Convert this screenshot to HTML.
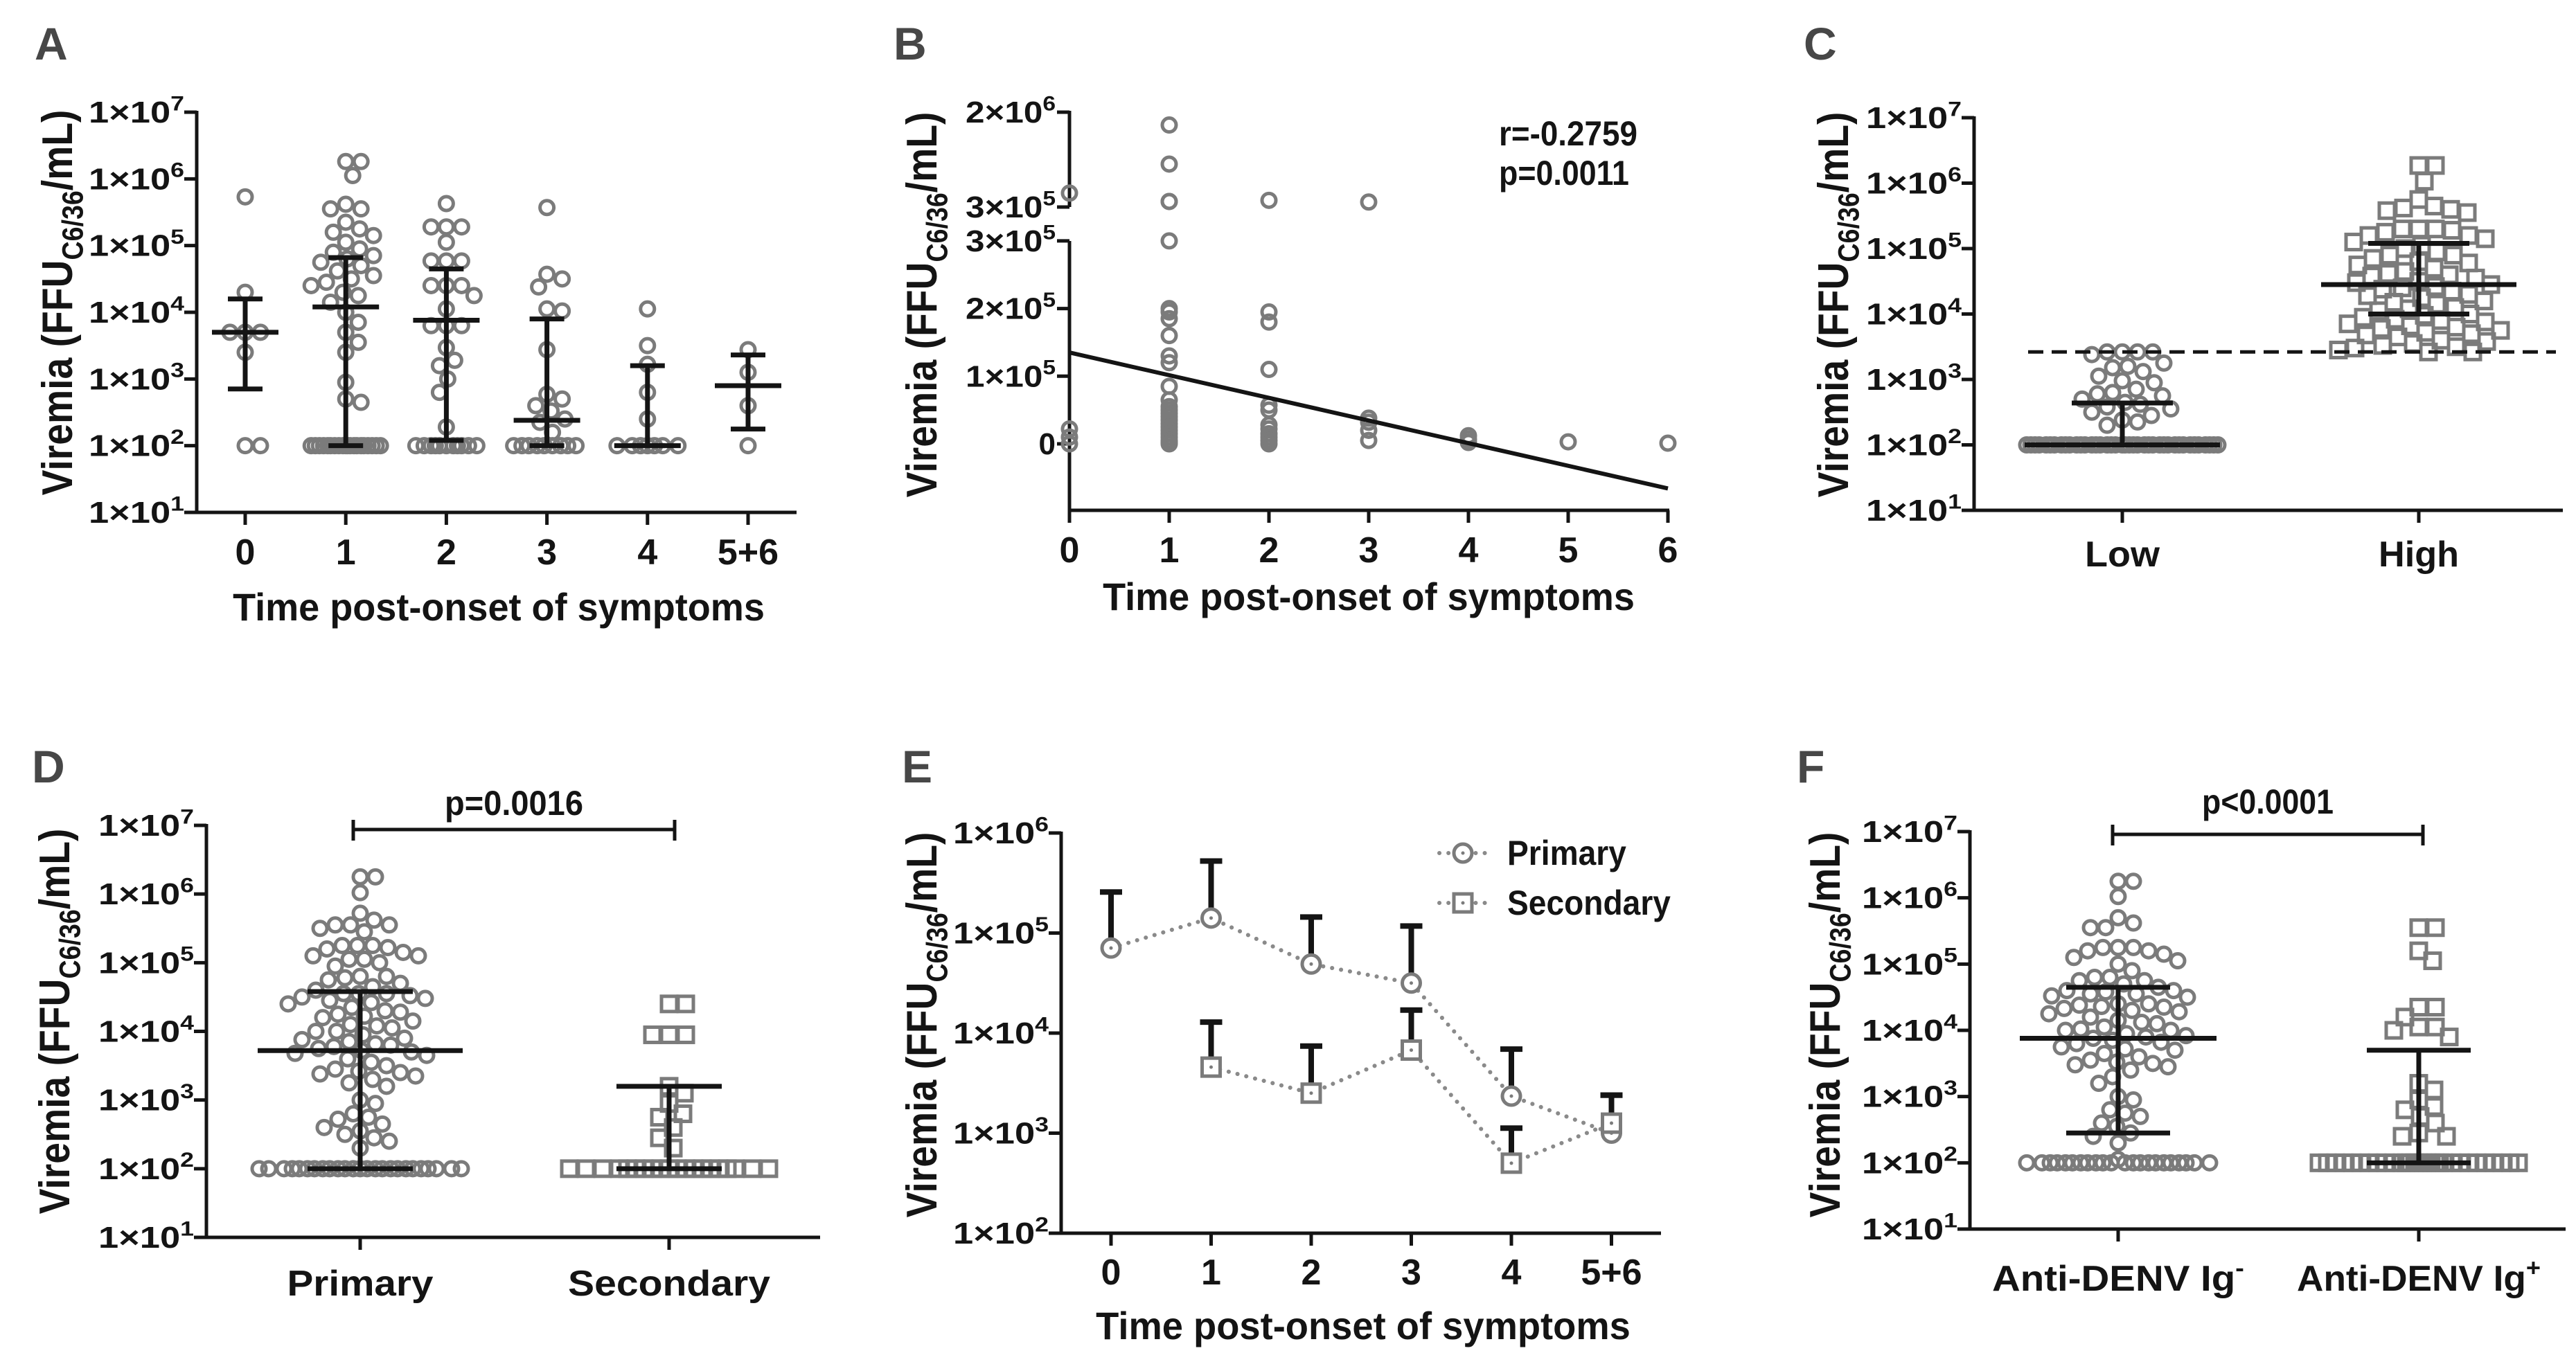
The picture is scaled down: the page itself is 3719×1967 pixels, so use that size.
<!DOCTYPE html>
<html><head><meta charset="utf-8">
<style>html,body{margin:0;padding:0;background:#fff;}svg{display:block;}</style>
</head><body>
<svg id="fig" xmlns="http://www.w3.org/2000/svg" width="3719" height="1967" viewBox="0 0 3719 1967" font-family="'Liberation Sans', Arial, sans-serif" font-weight="bold">
<rect width="3719" height="1967" fill="#ffffff"/>
</svg>
<script>
// ---------- DATA (log10 FFU/mL unless noted) ----------
const aCategories = ["0","1","2","3","4","5+6"];
const aDay0 = [5.73,4.3,3.7,3.7,3.7,3.4,2,2];
const aDay1 = [6.26,6.26,6.05,5.62,5.55,5.55,5.35,5.25,5.2,5.15,5.05,4.95,4.9,4.85,4.8,4.75,4.7,4.62,4.55,4.5,4.45,4.4,4.3,4.25,4.15,4.0,3.85,3.7,3.55,3.4,2.95,2.7,2.65,2,2,2,2,2,2,2,2,2,2,2,2,2,2,2,2,2,2,2,2];
const aDay2 = [5.63,5.28,5.28,5.28,5.05,4.77,4.77,4.77,4.4,4.4,4.4,4.25,4.05,3.8,3.8,3.8,3.47,3.28,3.2,3.0,2.8,2.28,2,2,2,2,2,2,2,2,2,2,2];
const aDay3 = [5.57,4.57,4.5,4.38,4.05,4.02,3.44,2.77,2.7,2.6,2.52,2.4,2.35,2.2,2,2,2,2,2,2,2,2,2];
const aDay4 = [4.05,3.5,3.22,2.8,2.4,2,2,2,2,2,2,2];
const aDay56 = [3.44,3.1,2.6,2];
const aMedian = [3.7,4.08,3.88,2.38,2,2.9];
const aLower = [2.85,2,2.08,2,2,2.25];
const aUpper = [4.2,4.82,4.65,3.9,3.2,3.36];

const bDays = [0,0,0,0, 1,1,1,1,1,1,1,1,1,1,1,1,1,1,1,1,1,1,1,1,1,1,1,1,1,1, 2,2,2,2,2,2,2,2,2,2,2,2, 3,3,3,3,3, 4,4,4, 5, 6];
const bViremia = [550000,22000,10000,0, 1770000,1070000,400000,400000,300000,200000,195000,185000,160000,130000,120000,85000,65000,55000,50000,45000,40000,35000,30000,25000,20000,15000,10000,5000,2000,0, 420000,195000,180000,110000,57000,50000,28000,22000,15000,10000,5000,0, 390000,38000,32000,20000,5000, 12000,7000,2000, 3000, 1000];
const bIntercept = 135000;
const bSlope = -33500;
const bStats = ["r=-0.2759","p=0.0011"];

const cCategories = ["Low","High"];
const cLow = [3.42,3.42,3.42,3.42,3.38,3.25,3.2,3.18,3.12,3.05,2.98,2.95,2.85,2.8,2.78,2.75,2.7,2.65,2.62,2.58,2.55,2.5,2.45,2.38,2.35,2.3,2,2,2,2,2,2,2,2,2,2,2,2,2,2,2,2,2,2,2,2,2,2,2,2,2,2,2,2,2,2,2,2,2,2,2,2,2,2,2,2];
const cHigh = [6.27,6.27,6.03,5.75,5.65,5.62,5.6,5.58,5.55,5.3,5.3,5.3,5.28,5.25,5.2,5.2,5.15,5.1,5.05,5.0,4.95,4.9,4.9,4.85,4.8,4.78,4.75,4.7,4.65,4.62,4.6,4.58,4.55,4.5,4.48,4.45,4.42,4.4,4.38,4.35,4.3,4.28,4.25,4.2,4.18,4.15,4.1,4.08,4.05,4.0,3.98,3.95,3.92,3.9,3.88,3.85,3.82,3.8,3.78,3.75,3.72,3.7,3.68,3.65,3.6,3.58,3.55,3.52,3.5,3.48,3.45,3.42,3.42];
const cMedian = [2,4.45];
const cLower = [2,4.0];
const cUpper = [2.64,5.08];
const cThreshold = 3.42;

const dCategories = ["Primary","Secondary"];
const dPrimary = [6.25,6.25,6.02,5.72,5.62,5.55,5.55,5.55,5.5,5.45,5.25,5.25,5.25,5.22,5.2,5.15,5.1,5.1,5.05,5.05,5.0,4.95,4.8,4.8,4.78,4.75,4.7,4.65,4.6,4.55,4.55,4.55,4.52,4.5,4.48,4.45,4.42,4.4,4.35,4.3,4.28,4.25,4.22,4.2,4.15,4.1,4.08,4.05,4.0,4.0,3.95,3.9,3.88,3.85,3.82,3.8,3.78,3.75,3.72,3.7,3.68,3.65,3.6,3.55,3.5,3.45,3.42,3.4,3.38,3.35,3.3,3.25,3.2,3.0,2.95,2.8,2.75,2.72,2.65,2.6,2.55,2.5,2.45,2.4,2.3,2,2,2,2,2,2,2,2,2,2,2,2,2,2,2,2,2,2,2,2,2,2,2,2,2];
const dSecondary = [4.4,4.4,3.95,3.95,3.95,3.2,3.1,2.95,2.8,2.75,2.6,2.45,2.3,2,2,2,2,2,2,2,2,2,2,2,2,2,2,2,2,2,2,2,2];
const dMedian = [3.72,2];
const dLower = [2,2];
const dUpper = [4.58,3.2];
const dPValue = "p=0.0016";

const eCategories = ["0","1","2","3","4","5+6"];
const ePrimaryMean = [4.85,5.15,4.69,4.5,3.37,3.0];
const ePrimaryUpper = [5.41,5.72,5.16,5.07,3.84,3.38];
const eSecondaryMean = [null,3.66,3.4,3.83,2.7,3.1];
const eSecondaryUpper = [null,4.11,3.87,4.23,3.05,3.38];
const eLegend = ["Primary","Secondary"];

const fCategories = ["Anti-DENV Ig","Anti-DENV Ig"];
const fCategorySup = ["-","+"];
const fNegative = [6.25,6.25,6.02,5.7,5.62,5.55,5.55,5.25,5.25,5.25,5.2,5.2,5.15,5.1,5.05,5.0,4.9,4.8,4.8,4.75,4.75,4.7,4.65,4.6,4.6,4.58,4.55,4.55,4.52,4.5,4.4,4.4,4.38,4.36,4.35,4.33,4.3,4.28,4.25,4.2,4.15,4.12,4.1,4.05,4.02,4.0,4.0,3.95,3.92,3.9,3.88,3.85,3.82,3.8,3.75,3.72,3.7,3.65,3.6,3.55,3.52,3.5,3.48,3.45,3.4,3.3,3.2,3.0,2.95,2.8,2.75,2.7,2.6,2.55,2.45,2.4,2.3,2.05,2,2,2,2,2,2,2,2,2,2,2,2,2,2,2,2,2,2,2,2,2,2];
const fPositive = [5.55,5.55,5.2,5.05,4.35,4.35,4.2,4.05,4.05,4.0,3.9,3.2,3.1,2.95,2.85,2.8,2.7,2.6,2.45,2.4,2.4,2,2,2,2,2,2,2,2,2,2,2,2,2,2,2,2,2,2,2,2,2,2,2,2,2,2,2,2,2,2];
const fMedian = [3.88,2];
const fLower = [2.45,2];
const fUpper = [4.65,3.7];
const fPValue = "p<0.0001";

// ---------- HELPERS ----------
const NS = 'http://www.w3.org/2000/svg';
const svg = document.getElementById('fig');
const GRAY = '#7b7b7b';
const INK = '#141414';
function mk(tag, parent, attrs) {
  const e = document.createElementNS(NS, tag);
  for (const k in attrs) e.setAttribute(k, attrs[k]);
  parent.appendChild(e);
  return e;
}
function txt(parent, x, y, parts, size, anchor, target, rot, fill) {
  const t = document.createElementNS(NS, 'text');
  t.setAttribute('font-size', size);
  t.setAttribute('text-anchor', anchor || 'start');
  t.setAttribute('fill', fill || INK);
  if (typeof parts === 'string') parts = [{t: parts}];
  let shift = 0;
  parts.forEach(p => {
    const ts = document.createElementNS(NS, 'tspan');
    const want = p.sup ? -size * 0.4 : (p.sub ? size * 0.25 : 0);
    ts.setAttribute('dy', want - shift);
    shift = want;
    if (p.sup || p.sub) ts.setAttribute('font-size', size * 0.68);
    ts.textContent = p.t;
    t.appendChild(ts);
  });
  parent.appendChild(t);
  let s = 1;
  if (target) { const w = t.getComputedTextLength(); if (w > 0) s = target / w; }
  t.setAttribute('transform', `translate(${x},${y}) rotate(${rot || 0}) scale(${s},1)`);
  return t;
}
function line(parent, x1, y1, x2, y2, w, color) {
  return mk('line', parent, {x1, y1, x2, y2, stroke: color || INK, 'stroke-width': w});
}
function group(name) {
  const g = mk('g', svg, {});
  
  
  return g;
}
function panelLetter(g, x, y, letter) {
  const t = txt(g, x, y, letter, 66, 'start', null, 0, '#474747');
  
  
}
function yTitle(g, cx, cy, len) {
  const t = txt(g, cx + 24, cy, [{t: 'Viremia (FFU'}, {t: 'C6/36', sub: true}, {t: '/mL)'}], 62, 'middle', len, -90);
  
  
}
function xTitle(g, cx, y, len) {
  const t = txt(g, cx, y, 'Time post-onset of symptoms', 56, 'middle', len);
  
  
}
function logAxes(g, axisX, yTop, yBot, topExp, botExp, xEnd, catXs, catParts, labelY, catFont, catTargets) {
  const yS = v => yTop + (topExp - v) / (topExp - botExp) * (yBot - yTop);
  const ax = line(g, axisX, yTop - 2, axisX, yBot + 2.5, 5);
  
  
  const xa = line(g, axisX - 2.5, yBot, xEnd, yBot, 5);
  
  
  for (let e = botExp; e <= topExp; e++) {
    const y = yS(e);
    const tk = line(g, axisX - 18, y, axisX, y, 5);
    
    
    const lb = txt(g, axisX - 18, y + 15, [{t: '1×10'}, {t: String(e), sup: true}], 44, 'end', 138);
    
    
  }
  catXs.forEach((x, i) => {
    const tk = line(g, x, yBot, x, yBot + 18, 5);
    
    
    const lb = txt(g, x, labelY, catParts[i], catFont, 'middle', catTargets ? catTargets[i] : null);
    
    
  });
  return yS;
}
function swarm(vals, yS, cx, halfW, r) {
  const idx = vals.map((v, i) => i).sort((a, b) => vals[b] - vals[a]);
  const placed = [];
  const xs = new Array(vals.length);
  const step = 2, minD = 2 * r * 0.95;
  idx.forEach(i => {
    const y = yS(vals[i]);
    let best = null, bestScore = -1;
    for (let k = 0; k * step <= halfW; k++) {
      const offs = k === 0 ? [0] : [k * step, -k * step];
      let found = false;
      for (const o of offs) {
        let md = 1e9;
        for (const p of placed) { const d = Math.hypot(p[0] - (cx + o), p[1] - y); if (d < md) md = d; }
        if (md >= minD) { best = o; found = true; break; }
        if (md > bestScore) { bestScore = md; best = o; }
      }
      if (found) break;
    }
    xs[i] = cx + best;
    placed.push([cx + best, y]);
  });
  return xs;
}
function drawMarker(g, shape, x, y, size) {
  let m;
  if (shape === 'circle') {
    m = mk('circle', g, {cx: x, cy: y, r: size, fill: 'none', stroke: GRAY, 'stroke-width': 5});
  } else {
    m = mk('rect', g, {x: x - size, y: y - size, width: 2 * size, height: 2 * size, fill: 'none', stroke: GRAY, 'stroke-width': 5});
  }
  
  
  return m;
}
function errorBars(g, cx, yS, med, lo, hi, medW, capW) {
  const v = line(g, cx, yS(lo), cx, yS(hi), 7);
  
  
  const c1 = line(g, cx - capW / 2, yS(hi), cx + capW / 2, yS(hi), 7);
  
  
  const c2 = line(g, cx - capW / 2, yS(lo), cx + capW / 2, yS(lo), 7);
  
  
  const m = line(g, cx - medW / 2, yS(med), cx + medW / 2, yS(med), 7);
  
  
}
function scatterGroup(g, vals, shape, cx, yS, halfW, size) {
  const xs = swarm(vals, yS, cx, halfW, size + 1.5);
  vals.forEach((v, i) => drawMarker(g, shape, xs[i], yS(v), size));
}
function bracket(g, x1, x2, y, label, labelY, target) {
  const b = line(g, x1, y, x2, y, 5);
  
  
  const l1 = line(g, x1, y - 14, x1, y + 16, 5);
  
  
  const l2 = line(g, x2, y - 14, x2, y + 16, 5);
  
  
  const t = txt(g, (x1 + x2) / 2, labelY, label, 50, 'middle', target);
  
  
}

// ---------- PANEL A ----------
(function () {
  const g = group('panel-a');
  panelLetter(g, 50, 86, 'A');
  const catXs = aCategories.map((c, i) => 354 + i * 145.2);
  const yS = logAxes(g, 284, 162, 740, 7, 1, 1150, catXs, aCategories, 815, 52, null);
  yTitle(g, 80, 437, 557);
  xTitle(g, 720, 896, 768);
  const groups = [aDay0, aDay1, aDay2, aDay3, aDay4, aDay56];
  groups.forEach((vals, i) => scatterGroup(g, vals, 'circle', catXs[i], yS, 50, 10));
  groups.forEach((vals, i) => errorBars(g, catXs[i], yS, aMedian[i], aLower[i], aUpper[i], 96, 50));
})();

// ---------- PANEL B ----------
(function () {
  const g = group('panel-b');
  panelLetter(g, 1290, 86, 'B');
  const x0 = 1544, unit = 144, yAxis = 737;
  const xS = d => x0 + d * unit;
  const yS = v => v <= 300000 ? 641 - v / 100000 * 97.7 : 299 - (v - 300000) / 1700000 * 137;
  const up = line(g, x0, 160, x0, 299, 5);
  
  
  const lo = line(g, x0, 348, x0, yAxis + 2.5, 5);
  
  
  const xa = line(g, x0 - 2.5, yAxis, xS(6) + 2, yAxis, 5);
  
  
  const yTicks = [[2000000, '2×10', '6'], [300001, '3×10', '5'], [300000, '3×10', '5'], [200000, '2×10', '5'], [100000, '1×10', '5'], [0, '0', '']];
  yTicks.forEach(tk => {
    const y = yS(tk[0]);
    const l = line(g, x0 - 18, y, x0, y, 5);
    
    
    const parts = tk[2] ? [{t: tk[1]}, {t: tk[2], sup: true}] : [{t: tk[1]}];
    const lb = txt(g, x0 - 20, y + 15, parts, 44, 'end', tk[2] ? 130 : null);
    
    
  });
  for (let d = 0; d <= 6; d++) {
    const l = line(g, xS(d), yAxis, xS(d), yAxis + 18, 5);
    
    
    const lb = txt(g, xS(d), 812, String(d), 52, 'middle');
    
    
  }
  yTitle(g, 1328, 440, 557);
  xTitle(g, 1976, 881, 768);
  bDays.forEach((d, i) => drawMarker(g, 'circle', xS(d), yS(bViremia[i]), 10));
  const reg = line(g, xS(0), yS(bIntercept), xS(6), yS(bIntercept + bSlope * 6), 6);
  
  
  const s1 = txt(g, 2164, 210, bStats[0], 50, 'start', 200);
  
  
  const s2 = txt(g, 2164, 267, bStats[1], 50, 'start', 188);
  
  
})();

// ---------- PANEL C ----------
(function () {
  const g = group('panel-c');
  panelLetter(g, 2604, 86, 'C');
  const catXs = [3064, 3492];
  const yS = logAxes(g, 2850, 170, 737, 7, 1, 3700, catXs, cCategories, 818, 52, [108, 116]);
  yTitle(g, 2644, 440, 557);
  scatterGroup(g, cLow, 'circle', catXs[0], yS, 138, 10);
  scatterGroup(g, cHigh, 'square', catXs[1], yS, 140, 11);
  const dl = mk('line', g, {x1: 2928, y1: yS(cThreshold), x2: 3690, y2: yS(cThreshold), stroke: INK, 'stroke-width': 5, 'stroke-dasharray': '22 12'});
  
  
  catXs.forEach((x, i) => errorBars(g, x, yS, cMedian[i], cLower[i], cUpper[i], 282, 146));
})();

// ---------- PANEL D ----------
(function () {
  const g = group('panel-d');
  panelLetter(g, 46, 1130, 'D');
  const catXs = [520, 966];
  const yS = logAxes(g, 298, 1192, 1787, 7, 1, 1184, catXs, dCategories, 1871, 52, [211, 292]);
  yTitle(g, 76, 1475, 557);
  scatterGroup(g, dPrimary, 'circle', catXs[0], yS, 146, 10);
  scatterGroup(g, dSecondary, 'square', catXs[1], yS, 148, 11);
  catXs.forEach((x, i) => errorBars(g, x, yS, dMedian[i], dLower[i], dUpper[i], i === 0 ? 296 : 0, 152));
  bracket(g, 510, 974, 1198, dPValue, 1177, 200);
})();

// ---------- PANEL E ----------
(function () {
  const g = group('panel-e');
  panelLetter(g, 1302, 1130, 'E');
  const catXs = eCategories.map((c, i) => 1604 + i * 144.5);
  const yS = logAxes(g, 1532, 1203, 1781, 6, 2, 2398, catXs, eCategories, 1855, 52, null);
  yTitle(g, 1328, 1480, 557);
  xTitle(g, 1968, 1934, 772);
  const series = [
    {mean: ePrimaryMean, upper: ePrimaryUpper, shape: 'circle', name: 'primary'},
    {mean: eSecondaryMean, upper: eSecondaryUpper, shape: 'square', name: 'secondary'}
  ];
  series.forEach(s => {
    s.mean.forEach((m, i) => {
      if (m === null) return;
      const eb = line(g, catXs[i], yS(m), catXs[i], yS(s.upper[i]), 8);
      
      
      const cp = line(g, catXs[i] - 16, yS(s.upper[i]), catXs[i] + 16, yS(s.upper[i]), 8);
      
      
    });
  });
  function eMarker(shape, x, y) {
    let m;
    if (shape === 'circle') m = mk('circle', g, {cx: x, cy: y, r: 13, fill: '#fff', stroke: GRAY, 'stroke-width': 5});
    else m = mk('rect', g, {x: x - 13, y: y - 13, width: 26, height: 26, fill: '#fff', stroke: GRAY, 'stroke-width': 5});
    
    
    const d = mk('circle', g, {cx: x, cy: y, r: 2.5, fill: GRAY});
    
    
  }
  series.forEach(s => {
    const pts = [];
    s.mean.forEach((m, i) => { if (m !== null) pts.push([catXs[i], yS(m)]); });
    const pl = mk('polyline', g, {points: pts.map(p => p.join(',')).join(' '), fill: 'none', stroke: '#8a8a8a', 'stroke-width': 6, 'stroke-dasharray': '0.1 13', 'stroke-linecap': 'round'});
    
    
  });
  series.forEach(s => {
    s.mean.forEach((m, i) => { if (m !== null) eMarker(s.shape, catXs[i], yS(m)); });
  });
  const legY = [1232, 1304];
  series.forEach((s, i) => {
    const lg = mk('line', g, {x1: 2078, y1: legY[i], x2: 2148, y2: legY[i], stroke: '#8a8a8a', 'stroke-width': 6, 'stroke-dasharray': '0.1 13', 'stroke-linecap': 'round'});
    
    
    eMarker(s.shape, 2112, legY[i]);
    const t = txt(g, 2176, legY[i] + 17, eLegend[i], 50, 'start', i === 0 ? 172 : 236);
    
    
  });
})();

// ---------- PANEL F ----------
(function () {
  const g = group('panel-f');
  panelLetter(g, 2594, 1130, 'F');
  const catXs = [3058, 3492];
  const parts = fCategories.map((c, i) => [{t: c}, {t: fCategorySup[i], sup: true}]);
  const yS = logAxes(g, 2844, 1201, 1775, 7, 1, 3704, catXs, parts, 1864, 52, [364, 352]);
  yTitle(g, 2632, 1480, 557);
  scatterGroup(g, fNegative, 'circle', catXs[0], yS, 140, 10);
  scatterGroup(g, fPositive, 'square', catXs[1], yS, 146, 11);
  catXs.forEach((x, i) => errorBars(g, x, yS, fMedian[i], fLower[i], fUpper[i], i === 0 ? 284 : 0, 150));
  bracket(g, 3050, 3498, 1205, fPValue, 1175, 190);
})();
</script>
</body></html>
